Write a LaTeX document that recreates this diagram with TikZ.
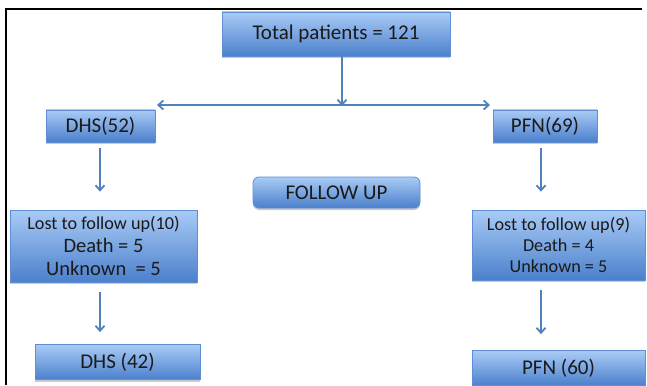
\documentclass[tikz,border=0pt]{standalone}
\usepackage{fontspec}
\setmainfont{Carlito}
\usetikzlibrary{shadows,arrows.meta}
\definecolor{boxtop}{HTML}{A9CBF6}
\definecolor{boxbot}{HTML}{4B80CC}
\definecolor{boxline}{HTML}{5F8FD3}
\definecolor{arr}{HTML}{4F81BD}
\definecolor{txt}{HTML}{1A1A1A}
\begin{document}
\begin{tikzpicture}[x=1pt,y=-1pt,
  bx/.style={draw=boxline,line width=0.8pt,top color=boxtop,bottom color=boxbot,
    text=txt,align=center,inner sep=1pt,
    drop shadow={opacity=0.35,shadow xshift=0pt,shadow yshift=-2pt,fill=black!60}},
  arw/.style={draw=arr,line width=1.8pt,-{Straight Barb[length=5pt,width=9pt]}},
  big/.style={font=\fontsize{21}{24}\selectfont},
  med/.style={font=\fontsize{18.2}{21}\selectfont}]
\useasboundingbox (0,0) rectangle (647,385);
\fill[white] (0,0) rectangle (647,385);
\draw[line width=2.5pt,black] (6,385) -- (6,9) -- (642,9);

\node[bx,big,minimum width=228pt,minimum height=44pt] (total) at (336,34) {Total patients = 121};
\node[bx,big,minimum width=109pt,minimum height=32pt] (dhs) at (100.5,126) {DHS(52)};
\node[bx,big,minimum width=104pt,minimum height=32pt] (pfn) at (545,126) {PFN(69)};
\node[bx,big,rounded corners=6pt,minimum width=167pt,minimum height=31pt] (follow) at (336.5,192.5) {FOLLOW UP};
\node[bx,font=\fontsize{20.5}{23}\selectfont,minimum width=187pt,minimum height=72pt] (lostl) at (103.5,246)
  {{\fontsize{18.2}{23}\selectfont Lost to follow up(10)}\\Death = 5\\Unknown\ \ = 5};
\node[bx,med,minimum width=173pt,minimum height=70pt] (lostr) at (558.5,245)
  {Lost to follow up(9)\\Death = 4\\Unknown = 5};
\node[bx,big,minimum width=165pt,minimum height=35pt] (dhsf) at (117.5,362) {DHS (42)};
\node[bx,big,minimum width=173pt,minimum height=35pt] (pfnf) at (558.5,368) {PFN (60)};

\coordinate (hj) at (342,105);
\coordinate (hl) at (157,105);
\coordinate (hr) at (490,105);
\draw[arw] (total.south -| hj) -- ([yshift=-1pt]hj);
\draw[draw=arr,line width=1.8pt,{Straight Barb[length=5pt,width=9pt]}-{Straight Barb[length=5pt,width=9pt]}] (hl) -- (hr);
\draw[arw,shorten <=6pt,shorten >=18pt] (dhs.south -| 100,0) -- (lostl.north -| 100,0);
\draw[arw,shorten <=6pt,shorten >=18pt] (pfn.south -| 541,0) -- (lostr.north -| 541,0);
\draw[arw,shorten <=10pt,shorten >=12pt] (lostl.south -| 100,0) -- (dhsf.north -| 100,0);
\draw[arw,shorten <=10pt,shorten >=16pt] (lostr.south -| 541,0) -- (pfnf.north -| 541,0);
\end{tikzpicture}
\end{document}
